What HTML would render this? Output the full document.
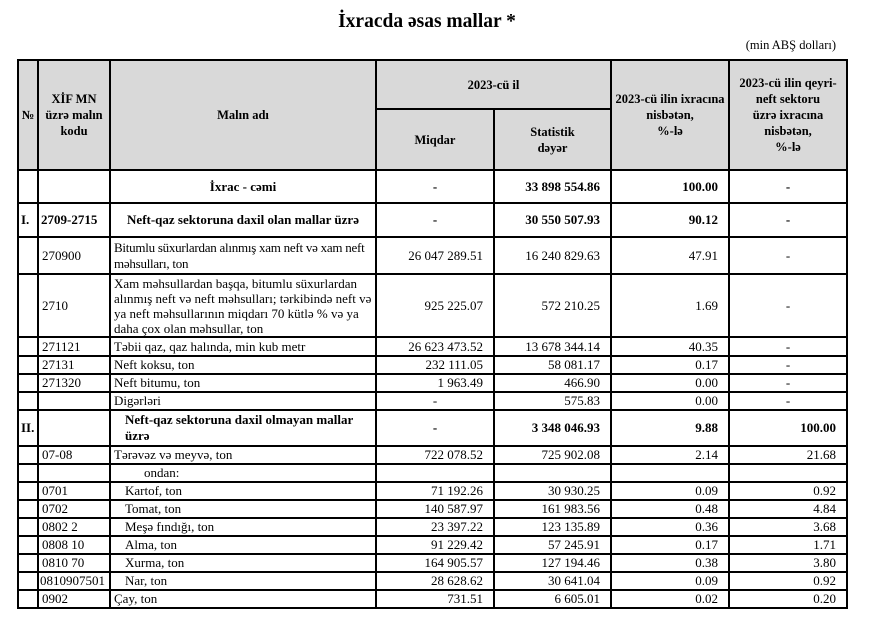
<!DOCTYPE html>
<html><head><meta charset="utf-8"><style>
body{margin:0;background:#fff;width:884px;height:619px;overflow:hidden;font-family:"Liberation Serif",serif;color:#000;position:relative}
.t{position:absolute;top:11px;left:0;width:854px;text-align:center;font-weight:bold;font-size:19.5px}
.u{position:absolute;top:38px;right:48px;font-size:12.5px}
table{position:absolute;left:17px;top:59px;border-collapse:collapse;table-layout:fixed;width:830px}
td{border:2px solid #000;font-size:13px;padding:0 3px;line-height:16px;overflow:hidden;white-space:nowrap}
.h td{background:#d9d9d9;font-weight:bold;text-align:center;font-size:12.5px}
.r{text-align:right;padding-right:10px}
.c{text-align:center}
.b{font-weight:bold}
.i{padding-left:14px}
</style></head><body>
<div class="t">İxracda əsas mallar *</div>
<div class="u">(min ABŞ dolları)</div>
<table>
<colgroup><col style="width:20px"><col style="width:72px"><col style="width:266px"><col style="width:118px"><col style="width:117px"><col style="width:118px"><col style="width:118px"></colgroup>
<tr class="h" style="height:49px"><td rowspan="2" style="padding:0">№</td><td rowspan="2">XİF MN<br>üzrə malın<br>kodu</td><td rowspan="2">Malın adı</td><td colspan="2">2023-cü il</td><td rowspan="2" style="padding:0">2023-cü ilin ixracına<br>nisbətən,<br>%-lə</td><td rowspan="2">2023-cü ilin qeyri-<br>neft sektoru<br>üzrə ixracına<br>nisbətən,<br>%-lə</td></tr>
<tr class="h" style="height:61px"><td>Miqdar</td><td>Statistik<br>dəyər</td></tr>
<tr style="height:33px" class="b"><td></td><td></td><td class="c">İxrac - cəmi</td><td class="c">-</td><td class="r">33 898 554.86</td><td class="r">100.00</td><td class="c">-</td></tr>
<tr style="height:34px" class="b"><td style="padding:0 2px">I.</td><td style="padding:0 2px">2709-2715</td><td class="c">Neft-qaz sektoruna daxil olan mallar üzrə</td><td class="c">-</td><td class="r">30 550 507.93</td><td class="r">90.12</td><td class="c">-</td></tr>
<tr style="height:37px"><td></td><td>270900</td><td style="letter-spacing:-0.25px">Bitumlu süxurlardan alınmış xam neft və xam neft<br>məhsulları, ton</td><td class="r">26 047 289.51</td><td class="r">16 240 829.63</td><td class="r">47.91</td><td class="c">-</td></tr>
<tr style="height:63px"><td></td><td>2710</td><td style="line-height:15px">Xam məhsullardan başqa, bitumlu süxurlardan<br>alınmış neft və neft məhsulları; tərkibində neft və<br>ya neft məhsullarının miqdarı 70 kütlə % və ya<br>daha çox olan məhsullar, ton</td><td class="r">925 225.07</td><td class="r">572 210.25</td><td class="r">1.69</td><td class="c">-</td></tr>
<tr style="height:19px"><td></td><td>271121</td><td>Təbii qaz, qaz halında, min kub metr</td><td class="r">26 623 473.52</td><td class="r">13 678 344.14</td><td class="r">40.35</td><td class="c">-</td></tr>
<tr style="height:18px"><td></td><td>27131</td><td>Neft koksu, ton</td><td class="r">232 111.05</td><td class="r">58 081.17</td><td class="r">0.17</td><td class="c">-</td></tr>
<tr style="height:18px"><td></td><td>271320</td><td>Neft bitumu, ton</td><td class="r">1 963.49</td><td class="r">466.90</td><td class="r">0.00</td><td class="c">-</td></tr>
<tr style="height:18px"><td></td><td></td><td>Digərləri</td><td class="c">-</td><td class="r">575.83</td><td class="r">0.00</td><td class="c">-</td></tr>
<tr style="height:36px" class="b"><td style="padding:0 2px">II.</td><td></td><td style="padding-left:14px">Neft-qaz sektoruna daxil olmayan mallar<br>üzrə</td><td class="c">-</td><td class="r">3 348 046.93</td><td class="r">9.88</td><td class="r">100.00</td></tr>
<tr style="height:18px"><td></td><td>07-08</td><td>Tərəvəz və meyvə, ton</td><td class="r">722 078.52</td><td class="r">725 902.08</td><td class="r">2.14</td><td class="r">21.68</td></tr>
<tr style="height:18px"><td></td><td></td><td style="padding-left:33px">ondan:</td><td></td><td></td><td></td><td></td></tr>
<tr style="height:18px"><td></td><td>0701</td><td class="i">Kartof, ton</td><td class="r">71 192.26</td><td class="r">30 930.25</td><td class="r">0.09</td><td class="r">0.92</td></tr>
<tr style="height:18px"><td></td><td>0702</td><td class="i">Tomat, ton</td><td class="r">140 587.97</td><td class="r">161 983.56</td><td class="r">0.48</td><td class="r">4.84</td></tr>
<tr style="height:18px"><td></td><td>0802 2</td><td class="i">Meşə fındığı, ton</td><td class="r">23 397.22</td><td class="r">123 135.89</td><td class="r">0.36</td><td class="r">3.68</td></tr>
<tr style="height:18px"><td></td><td>0808 10</td><td class="i">Alma, ton</td><td class="r">91 229.42</td><td class="r">57 245.91</td><td class="r">0.17</td><td class="r">1.71</td></tr>
<tr style="height:18px"><td></td><td>0810 70</td><td class="i">Xurma, ton</td><td class="r">164 905.57</td><td class="r">127 194.46</td><td class="r">0.38</td><td class="r">3.80</td></tr>
<tr style="height:18px"><td></td><td style="padding:0 1px">0810907501</td><td class="i">Nar, ton</td><td class="r">28 628.62</td><td class="r">30 641.04</td><td class="r">0.09</td><td class="r">0.92</td></tr>
<tr style="height:17px"><td></td><td>0902</td><td>Çay, ton</td><td class="r">731.51</td><td class="r">6 605.01</td><td class="r">0.02</td><td class="r">0.20</td></tr>
</table>
</body></html>
